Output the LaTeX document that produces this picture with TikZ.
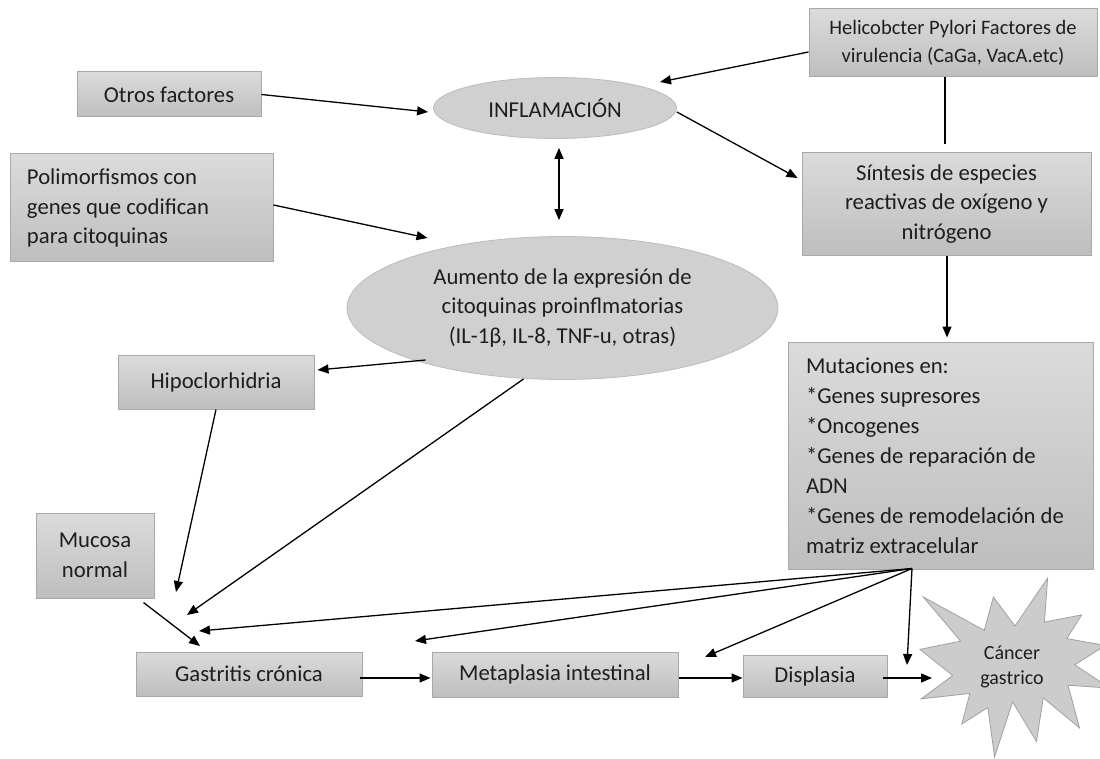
\documentclass[tikz,border=0pt]{standalone}
\usepackage{fontspec}
\setmainfont{Carlito}
\usetikzlibrary{arrows.meta,shapes.geometric}
\definecolor{boxtop}{RGB}{219,219,219}
\definecolor{boxbot}{RGB}{190,190,190}
\definecolor{boxline}{RGB}{168,168,168}
\definecolor{ellfill}{RGB}{208,208,208}
\definecolor{ellline}{RGB}{188,188,188}
\definecolor{starfill}{RGB}{204,204,204}
\definecolor{starline}{RGB}{160,160,160}
\definecolor{txt}{RGB}{30,30,30}
\newcommand{\mainfnt}{\fontsize{22.7}{29.5}\selectfont}
\newcommand{\mutfnt}{\fontsize{22.7}{30}\selectfont}
\newcommand{\helifnt}{\fontsize{20.5}{28}\selectfont}
\newcommand{\starfnt}{\fontsize{20}{25}\selectfont}
\tikzset{
  box/.style={draw=boxline, line width=1pt, top color=boxtop, bottom color=boxbot,
    inner sep=0pt, text=txt, align=center, font=\mainfnt},
  ell/.style={ellipse, draw=ellline, fill=ellfill, line width=0.8pt, inner sep=0pt,
    text=txt, align=center, font=\mainfnt},
  arr/.style={line width=1.3pt, -{Triangle[length=11pt,width=9pt]}},
  darr/.style={line width=1.3pt, {Triangle[length=11pt,width=9pt]}-{Triangle[length=11pt,width=9pt]}},
  plainline/.style={line width=1.3pt},
}
\begin{document}
\begin{tikzpicture}[x=1pt,y=-1pt]
\useasboundingbox (0,0) rectangle (1100,759);

% nodes
\node[box, minimum width=288pt, minimum height=68pt, font=\helifnt] (heli) at (953,43)
  {Helicobcter Pylori Factores de\\virulencia (CaGa, VacA.etc)};
\node[box, minimum width=184pt, minimum height=45pt] (otros) at (169,94.5) {Otros factores};
\node[ell, minimum width=243pt, minimum height=61pt] (infl) at (555,108) {INFLAMACIÓN};
\node[box, align=flush left, text width=229pt, minimum width=263pt, minimum height=108pt] (poli) at (141.5,208)
  {Polimorfismos con\\genes que codifican\\para citoquinas};
\node[box, minimum width=289pt, minimum height=103pt] (sint) at (946.5,204)
  {Síntesis de especies\\reactivas de oxígeno y\\nitrógeno};
\node[ell, minimum width=431pt, minimum height=143pt] (aum) at (562.5,308)
  {Aumento de la expresión de\\citoquinas proinflmatorias\\(IL-1β, IL-8, TNF-u, otras)};
\node[box, minimum width=196pt, minimum height=54pt] (hipo) at (216,382) {Hipoclorhidria};
\node[box, align=flush left, text width=269pt, minimum width=305pt, minimum height=227pt, font=\mutfnt] (mut) at (940.5,455.5)
  {Mutaciones en:\\{*}Genes supresores\\{*}Oncogenes\\{*}Genes de reparación de\\ADN\\{*}Genes de remodelación de\\matriz extracelular};
\node[box, minimum width=118pt, minimum height=85pt] (muc) at (95,555.5) {Mucosa\\normal};
\node[box, minimum width=226pt, minimum height=44pt] (gas) at (249,674) {Gastritis crónica};
\node[box, minimum width=246pt, minimum height=45pt] (meta) at (555,674.5) {Metaplasia intestinal};
\node[box, minimum width=144pt, minimum height=42pt] (dis) at (815,676) {Displasia};

% explosion shape
\begin{scope}[shift={(920,578)}, x=0.008796pt, y=-0.008287pt]
\draw[draw=starline, fill=starfill, line width=0.8pt]
  (10800,5800) -- (8352,2295) -- (7312,6320) -- (370,2295) -- (4627,7617) -- (0,8615)
  -- (3722,11775) -- (135,14587) -- (5667,13937) -- (4762,17617) -- (7715,15627)
  -- (8485,21600) -- (10532,14935) -- (13247,19737) -- (14020,14457) -- (18145,18095)
  -- (16837,12942) -- (21600,13290) -- (17607,10475) -- (21097,8137) -- (16702,7315)
  -- (18380,4457) -- (14155,5325) -- (14522,0) -- cycle;
\end{scope}
\node[text=txt, align=center, font=\starfnt, inner sep=0pt] (star) at (1012,667) {Cáncer\\gastrico};

% connectors
\draw[arr] (otros.east) -- ([shift={(-5,4)}]infl.west);
\draw[arr] ([shift={(0,9)}]heli.west) -- ([shift={(105,-26)}]infl.center);
\draw[arr] ([shift={(0,4)}]infl.east) -- ([shift={(-4,-26)}]sint.west);
\draw[plainline] ([shift={(-8,0)}]heli.south) -- ([shift={(-1.5,-8)}]sint.north);
\draw[darr] ([shift={(4,9)}]infl.south) -- ([shift={(-3.5,-16)}]aum.north);
\draw[arr] ([shift={(0,-3)}]poli.east) -- ([shift={(-135,-70)}]aum.center);
\draw[arr] ([shift={(0.5,0)}]sint.south) -- ([shift={(6.5,-4)}]mut.north);
\draw[arr] ([shift={(-137,52)}]aum.center) -- ([shift={(3,-12)}]hipo.east);
\draw[arr] ([shift={(-39,71)}]aum.center) -- ([shift={(-62,-59)}]gas.center);
\draw[arr] (hipo.south) -- ([shift={(-73,-82)}]gas.center);
\draw[arr] ([shift={(-11,4)}]muc.south east) -- ([shift={(-49,-28)}]gas.center);
\coordinate (fan) at ([shift={(-28.5,-1)}]mut.south);
\draw[arr] (fan) -- ([shift={(-50,-43)}]gas.center);
\draw[arr] (fan) -- ([shift={(-140,-33.5)}]meta.center);
\draw[arr] (fan) -- ([shift={(-110,-19)}]dis.center);
\draw[arr] (fan) -- ([shift={(-105,-2)}]star.center);
\draw[arr] ([shift={(-3,4)}]gas.east) -- ([shift={(-1,3.5)}]meta.west);
\draw[arr] ([shift={(0,3.5)}]meta.east) -- ([shift={(0,2)}]dis.west);
\draw[arr] ([shift={(-5,2)}]dis.east) -- ([shift={(-80,11)}]star.center);
\end{tikzpicture}
\end{document}
